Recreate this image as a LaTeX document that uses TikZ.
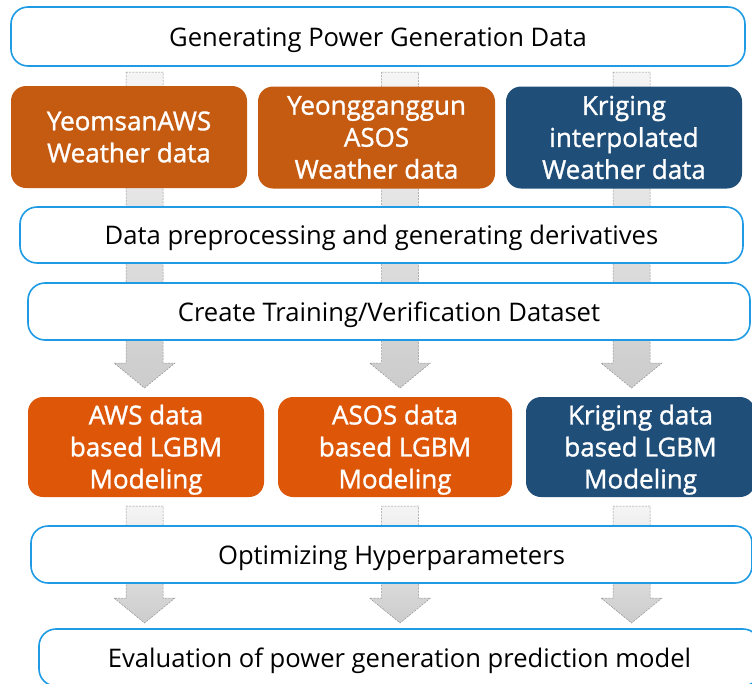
\documentclass[tikz,border=0pt]{standalone}
\usepackage{fontspec}
\setmainfont{Open Sans}
\newfontface\medfont[FakeBold=1.2]{Open Sans}
\usetikzlibrary{calc}
\definecolor{bluline}{RGB}{30,155,228}
\definecolor{orgA}{RGB}{197,90,17}
\definecolor{orgB}{RGB}{222,87,9}
\definecolor{navy}{RGB}{31,78,121}
\newcommand\garrowpath[2]{%
  \draw[garrow] ($(#1)+(-18.5,0)$) -- ($(#1)+(18.5,0)$) -- ($(#2)+(18.5,-25)$) -- ($(#2)+(30.5,-25)$) -- (#2) -- ($(#2)+(-30.5,-25)$) -- ($(#2)+(-18.5,-25)$) -- cycle;}
\newcommand\lowstack[1]{\raisebox{-3pt}[\height][\depth]{\begin{tabular}{@{}c@{}}#1\end{tabular}}}
\begin{document}
\begin{tikzpicture}[x=1pt,y=-1pt,
  wbox/.style={draw=bluline, line width=1.6pt, fill=white, rounded corners=17pt, inner sep=0pt,
    font=\fontsize{25.6}{30}\selectfont, text=black, text height=21pt, text depth=2pt},
  cbox/.style={rounded corners=15pt, inner sep=0pt, text=white, align=center,
    font=\fontsize{26}{32}\selectfont\medfont},
  garrow/.style={draw=gray!85, dash pattern=on 2pt off 1.2pt, line width=0.5pt,
    top color=gray!8, bottom color=gray!40}]
\clip (0,0) rectangle (752,683);
% connector end points
\coordinate (c1s) at (144.5,72);  \coordinate (c1e) at (144.5,388);
\coordinate (c2s) at (400,72);    \coordinate (c2e) at (400,388);
\coordinate (c3s) at (631.5,72);  \coordinate (c3e) at (631.5,388);
\coordinate (d1s) at (144.5,506); \coordinate (d1e) at (144.5,623);
\coordinate (d2s) at (400,506);   \coordinate (d2e) at (400,623);
\coordinate (d3s) at (631.5,506); \coordinate (d3e) at (631.5,623);
\garrowpath{c1s}{c1e}
\garrowpath{c2s}{c2e}
\garrowpath{c3s}{c3e}
\garrowpath{d1s}{d1e}
\garrowpath{d2s}{d2e}
\garrowpath{d3s}{d3e}
% boxes
\node[wbox, minimum width=734pt, minimum height=59pt] (top) at (378,36.5) {Generating Power Generation Data};
\node[cbox, fill=orgA, minimum width=236pt, minimum height=102pt] (wa) at (129,137) {YeomsanAWS\\Weather data};
\node[cbox, fill=orgA, minimum width=237pt, minimum height=102pt] (wb) at (376.5,137.5) {Yeongganggun\\ASOS\\Weather data};
\node[cbox, fill=navy, minimum width=236pt, minimum height=102pt] (wc) at (624,137.5) {Kriging\\interpolated\\Weather data};
\node[wbox, minimum width=723pt, minimum height=56pt] (prep) at (381.5,235) {Data preprocessing and generating derivatives};
\node[wbox, minimum width=722pt, minimum height=57pt] (create) at (389,311.5) {Create Training/Verification Dataset};
\node[cbox, fill=orgB, minimum width=236pt, minimum height=100pt] (ma) at (146,447) {\lowstack{AWS data\\based LGBM\\Modeling}};
\node[cbox, fill=orgB, minimum width=234pt, minimum height=100pt] (mb) at (395,447) {\lowstack{ASOS data\\based LGBM\\Modeling}};
\node[cbox, fill=navy, minimum width=229pt, minimum height=100pt] (mc) at (640.5,447) {\lowstack{Kriging data\\based LGBM\\Modeling}};
\node[wbox, minimum width=721pt, minimum height=57pt] (opt) at (391.5,554.5) {Optimizing Hyperparameters};
\node[wbox, minimum width=721pt, minimum height=57pt] (eval) at (399.5,657.5) {Evaluation of power generation prediction model};
\end{tikzpicture}
\end{document}
